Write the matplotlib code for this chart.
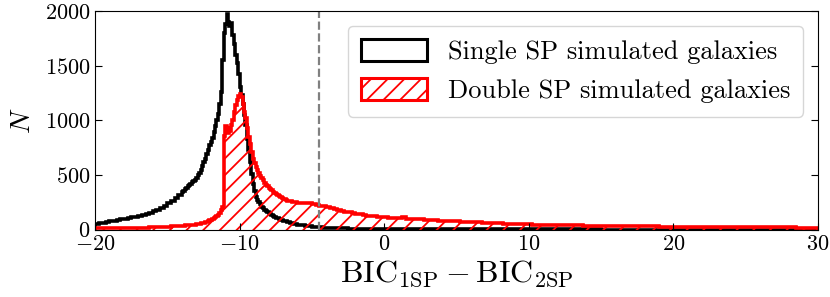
import numpy as np
import matplotlib
matplotlib.use("Agg")
import matplotlib.pyplot as plt
from matplotlib.patches import Patch

plt.rcParams["font.family"] = "serif"
plt.rcParams["font.serif"] = ["cmr10"]
plt.rcParams["mathtext.fontset"] = "cm"
plt.rcParams["axes.formatter.use_mathtext"] = True
plt.rcParams["hatch.linewidth"] = 1.3

# histogram bins: 0.25 wide, 0.1 wide around the peaks (-14 .. -6)
edges = np.concatenate([np.arange(-20.0, -14.0, 0.25),
                        np.arange(-14.0, -6.0, 0.1),
                        np.arange(-6.0, 30.001, 0.25)])

# counts per bin, single SP simulated galaxies
single_counts = [
    # -20 .. -14
    52, 58, 61, 70, 74, 79, 88, 94, 99, 103, 113, 117,
    127, 131, 143, 151, 166, 177, 196, 214, 240, 261, 291, 316,
    # -14 .. -6 (fine bins)
    345, 355, 368, 380, 395, 410, 420, 432, 445, 458,
    470, 495, 520, 548, 580, 615, 650, 690, 730, 770,
    800, 840, 890, 950, 1000, 1060, 1150, 1260, 1550, 1800,
    1880, 1970, 1900, 1860, 1890, 1780, 1700, 1600, 1520, 1420,
    1300, 1230, 1150, 1050, 960, 830, 730, 620, 510, 420,
    350, 300, 275, 250, 230, 210, 195, 180, 170, 160,
    150, 142, 132, 125, 118, 110, 104, 98, 92, 87,
    82, 78, 74, 70, 66, 62, 58, 55, 52, 49,
    # -6 .. 0
    45, 40, 36, 32, 28, 25, 22, 19, 17, 15, 14, 12,
    11, 10, 9, 9, 8, 7, 7, 6, 6, 5, 5, 5,
    # 0 .. 30
    5, 5, 5, 4, 4, 4, 4, 4, 4, 3, 3, 3, 3, 3, 3, 3, 3, 2, 2, 2,
    2, 2, 2, 2, 2, 2, 2, 1, 1, 1, 1, 1, 1, 1, 1, 1, 1, 1, 1, 1,
    1, 1, 1, 1, 1, 1, 1, 1, 1, 1, 1, 1, 1, 1, 1, 1, 1, 1, 1, 1,
    0, 0, 0, 0, 0, 0, 0, 0, 0, 0, 0, 0, 0, 0, 0, 0, 0, 0, 0, 0,
    0, 0, 0, 0, 0, 0, 0, 0, 0, 0, 0, 0, 0, 0, 0, 0, 0, 0, 0, 0,
    0, 0, 0, 0, 0, 0, 0, 0, 0, 0, 0, 0, 0, 0, 0, 0, 0, 0, 0, 0,
]

# counts per bin, double SP simulated galaxies
double_counts = [
    # -20 .. -14
    10, 10, 11, 11, 12, 12, 13, 13, 14, 14, 15, 16,
    17, 18, 19, 20, 21, 22, 24, 26, 28, 30, 32, 34,
    # -14 .. -6 (fine bins)
    36, 37, 38, 38, 39, 40, 41, 42, 43, 45,
    47, 50, 53, 56, 60, 64, 68, 72, 78, 84,
    88, 95, 102, 115, 125, 135, 150, 175, 210, 860,
    945, 930, 885, 900, 960, 1000, 1080, 1140, 1190, 1225,
    1240, 1210, 1150, 1080, 1020, 930, 850, 780, 710, 650,
    610, 575, 545, 515, 490, 470, 450, 430, 410, 395,
    385, 370, 358, 345, 335, 325, 315, 305, 298, 290,
    282, 276, 270, 265, 262, 258, 255, 252, 250, 248,
    # -6 .. 0
    246, 244, 242, 240, 233, 227, 219, 212, 205, 196, 186, 176,
    171, 163, 158, 150, 145, 138, 133, 127, 124, 121, 118, 116,
    # 0 .. 30
    114, 109, 110, 105, 104, 112, 99, 98, 96, 94, 93, 90, 88, 86, 85, 82,
    80, 79, 78, 76, 74, 73, 71, 70, 68, 66, 65, 62, 61, 60, 58, 57,
    56, 55, 53, 52, 51, 50, 49, 48, 47, 46, 45, 44, 43, 42, 42, 41,
    41, 40, 40, 39, 39, 38, 38, 37, 37, 36, 36, 35, 35, 34, 34, 33,
    33, 32, 32, 31, 31, 31, 30, 30, 30, 29, 29, 29, 28, 28, 28, 27,
    27, 27, 26, 26, 26, 26, 25, 25, 25, 25, 24, 24, 24, 24, 23, 23,
    23, 23, 22, 22, 22, 22, 22, 21, 21, 21, 21, 21, 20, 20, 20, 20,
    20, 20, 19, 19, 19, 19, 19, 19,
]

bic_cut = -4.5
labels = ["Single SP simulated galaxies", "Double SP simulated galaxies"]

fig = plt.figure(figsize=(8.3, 2.97), dpi=100)
ax = fig.add_axes([0.1145, 0.227, 0.871, 0.736])

ax.stairs(single_counts, edges, color="black", lw=2.6)
ax.stairs(double_counts, edges, fill=True, facecolor="none", edgecolor="red",
          hatch="//", linewidth=0)
ax.stairs(double_counts, edges, color="red", lw=2.6)

ax.axvline(bic_cut, color="gray", ls="--", lw=1.6)

ax.set_xlim(-20, 30)
ax.set_ylim(0, 2000)
ax.set_xticks([-20, -10, 0, 10, 20, 30])
ax.set_yticks([0, 500, 1000, 1500, 2000])
ax.tick_params(direction="in", right=True, labelsize=16, length=5)

ax.set_xlabel(r"$\mathrm{BIC}_{\mathrm{1SP}} - \mathrm{BIC}_{\mathrm{2SP}}$", fontsize=23, labelpad=3)
ax.set_ylabel(r"$N$", fontsize=20, labelpad=6)

handles = [Patch(facecolor="none", edgecolor="black", lw=2.2),
           Patch(facecolor="none", edgecolor="red", hatch="//", lw=2.2)]
ax.legend(handles, labels, loc="upper right", fontsize=19, handlelength=2.5,
          handleheight=0.9, borderaxespad=0.55, labelspacing=0.55, borderpad=0.5)

plt.savefig("out.png", dpi=100)
plt.close()
